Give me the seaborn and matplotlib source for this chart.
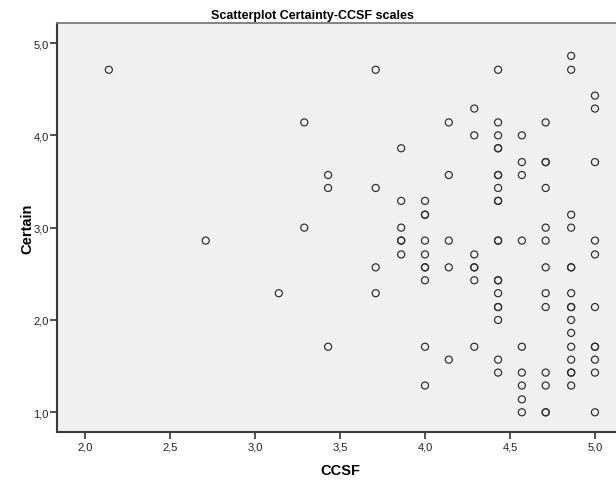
import matplotlib
matplotlib.use("Agg")
import matplotlib.pyplot as plt
from matplotlib.ticker import FuncFormatter, FixedLocator
import seaborn as sns
import pandas as pd

# CCSF (x) and Certain (y) values (duplicates = overlapping points)
ccsf = [
    2.14, 3.29, 3.43, 3.43, 3.29, 2.71, 3.14, 3.43,
    4.86, 3.71, 4.43, 4.86, 5.00, 5.00, 4.29, 4.14, 4.43, 4.71,
    4.29, 4.43, 4.57, 3.86, 4.43, 4.43, 4.57, 4.71, 4.71, 5.00,
    4.14, 4.43, 4.43, 4.57, 3.71, 4.43, 4.71, 3.86, 4.00, 4.43, 4.43,
    4.00, 4.00, 4.86, 3.86, 4.71, 4.86,
    3.86, 3.86, 4.00, 4.14, 4.43, 4.43, 4.57, 4.71, 5.00,
    3.86, 4.00, 4.29, 5.00,
    3.71, 4.00, 4.00, 4.14, 4.29, 4.29, 4.71, 4.86, 4.86,
    4.00, 4.29, 4.43, 4.43,
    3.71, 4.43, 4.71, 4.86,
    4.43, 4.43, 4.71, 4.86, 4.86, 5.00,
    4.43, 4.86,
    4.86,
    4.00, 4.29, 4.57, 4.86, 5.00, 5.00,
    4.14, 4.43, 4.86, 5.00,
    4.43, 4.57, 4.71, 4.86, 4.86, 5.00,
    4.00, 4.57, 4.71, 4.86,
    4.57,
    4.57, 4.71, 4.71, 5.00,
]
certain = [
    4.71, 4.14, 3.57, 3.43, 3.00, 2.86, 2.29, 1.71,
    4.86, 4.71, 4.71, 4.71, 4.43, 4.29, 4.29, 4.14, 4.14, 4.14,
    4.00, 4.00, 4.00, 3.86, 3.86, 3.86, 3.71, 3.71, 3.71, 3.71,
    3.57, 3.57, 3.57, 3.57, 3.43, 3.43, 3.43, 3.29, 3.29, 3.29, 3.29,
    3.14, 3.14, 3.14, 3.00, 3.00, 3.00,
    2.86, 2.86, 2.86, 2.86, 2.86, 2.86, 2.86, 2.86, 2.86,
    2.71, 2.71, 2.71, 2.71,
    2.57, 2.57, 2.57, 2.57, 2.57, 2.57, 2.57, 2.57, 2.57,
    2.43, 2.43, 2.43, 2.43,
    2.29, 2.29, 2.29, 2.29,
    2.14, 2.14, 2.14, 2.14, 2.14, 2.14,
    2.00, 2.00,
    1.86,
    1.71, 1.71, 1.71, 1.71, 1.71, 1.71,
    1.57, 1.57, 1.57, 1.57,
    1.43, 1.43, 1.43, 1.43, 1.43, 1.43,
    1.29, 1.29, 1.29, 1.29,
    1.14,
    1.00, 1.00, 1.00, 1.00,
]

x_ticks = [2.0, 2.5, 3.0, 3.5, 4.0, 4.5, 5.0]
y_ticks = [1.0, 2.0, 3.0, 4.0, 5.0]
title = "Scatterplot Certainty-CCSF scales"
x_label = "CCSF"
y_label = "Certain"

df = pd.DataFrame({"CCSF": ccsf, "Certain": certain})

plt.rcParams["font.family"] = ["Liberation Sans", "DejaVu Sans"]

fig = plt.figure(figsize=(6.16, 4.81), dpi=100)
fig.patch.set_facecolor("white")
ax = fig.add_axes([56.7 / 616, (481 - 433.3) / 481, (623.3 - 56.7) / 616, 409.3 / 481])
ax.set_facecolor("#F0F0F0")

sns.scatterplot(data=df, x="CCSF", y="Certain", ax=ax, marker="o", s=26,
                facecolor="none", edgecolor="#2a2a2a", linewidth=0.85, legend=False)

ax.set_xlim(1.8333, 5.1667)
ax.set_ylim(0.7833, 5.2167)
ax.xaxis.set_major_locator(FixedLocator(x_ticks))
ax.yaxis.set_major_locator(FixedLocator(y_ticks))
fmt = FuncFormatter(lambda v, p: f"{v:.1f}".replace(".", ","))
ax.xaxis.set_major_formatter(fmt)
ax.yaxis.set_major_formatter(fmt)

ax.tick_params(axis="both", direction="out", length=4.8, width=1.2, color="#333333",
               labelsize=8, labelcolor="#222222")
ax.tick_params(axis="y", pad=1.0)
ax.tick_params(axis="x", pad=2.0)

for side in ["left", "bottom"]:
    ax.spines[side].set_color("#3a3a3a")
    ax.spines[side].set_linewidth(1.5)
ax.spines["top"].set_color("#7a7a7a")
ax.spines["top"].set_linewidth(1.3)
ax.spines["right"].set_visible(False)

ax.set_xlabel(x_label, fontsize=10.5, fontweight="bold", va="center")
ax.set_ylabel(y_label, fontsize=10.5, fontweight="bold", va="center")
ax.xaxis.set_label_coords(0.5, (433.3 - 471) / 409.3)
ax.yaxis.set_label_coords((27 - 56.7) / 566.6, 0.5)

fig.text(312 / 616, 1 - 15.5 / 481, title, ha="center", va="center",
         fontsize=9, fontweight="bold")

fig.savefig("out.png", dpi=100)
